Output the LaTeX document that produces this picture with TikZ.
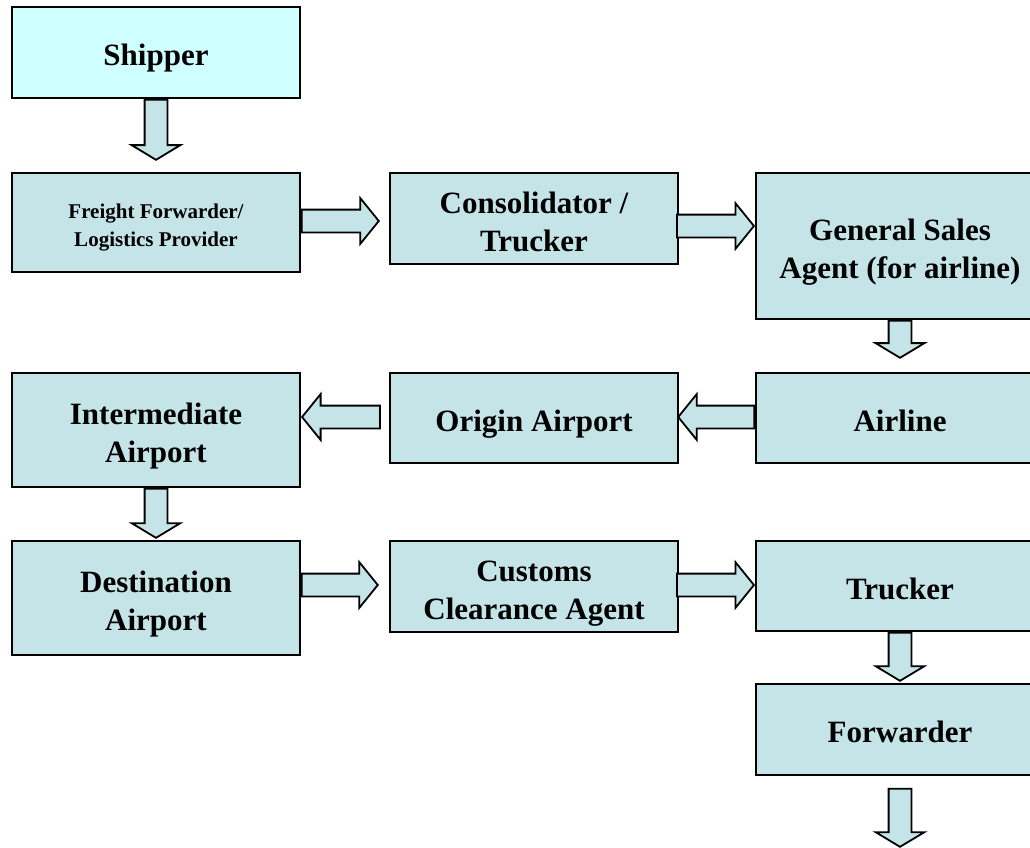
\documentclass[tikz,border=0pt]{standalone}
\usepackage{fontspec}
\setmainfont{Liberation Serif}
\usetikzlibrary{shapes.arrows,calc}

\definecolor{boxblue}{RGB}{196,228,232}
\definecolor{boxcyan}{RGB}{208,255,255}

\tikzset{
    box/.style={draw, line width=1.8pt, fill=boxblue, minimum width=288pt,
        minimum height=91pt, inner sep=0pt, align=center,
        font=\bfseries\fontsize{31}{38}\selectfont,
        text height=33.4pt, text depth=6.8pt},
    twoline/.style={box, text height=72.4pt},
    arr/.style={single arrow, draw, line width=1.8pt, fill=boxblue,
        inner xsep=0pt, inner ysep=10.5pt, minimum width=1pt},
    varr/.style={arr, rotate=-90, single arrow head extend=13pt,
        single arrow tip angle=118},
    harr/.style={arr, single arrow head extend=11.5pt,
        single arrow tip angle=102},
}

\begin{document}
\begin{tikzpicture}[x=1pt,y=-1pt]
    \useasboundingbox (0,0) rectangle (1030,847);

    % boxes
    \node[box, fill=boxcyan] (ship) at (156,52.5) {Shipper};
    \node[box, minimum height=99pt, font=\bfseries\fontsize{21}{28}\selectfont,
        text height=51.6pt, text depth=4.6pt]
        (ff) at (156,222.5) {Freight Forwarder/\\Logistics Provider};
    \node[twoline] (cons) at (534,218.5) {Consolidator /\\Trucker};
    \node[twoline, minimum height=146pt] (gsa) at (900,246) {General Sales\\Agent (for airline)};

    \node[twoline, minimum height=114pt] (inter) at (156,430) {Intermediate\\Airport};
    \node[box, minimum height=90pt] (orig) at (534,418) {Origin Airport};
    \node[box, minimum height=90pt] (air) at (900,418) {Airline};

    \node[twoline, minimum height=114pt] (dest) at (156,598) {Destination\\Airport};
    \node[twoline] (cust) at (534,586.5) {Customs\\Clearance Agent};
    \node[box, minimum height=90pt] (truck) at (900,586) {Trucker};
    \node[box] (fwd) at (900,729.5) {Forwarder};

    % block arrows
    \node[varr, minimum height=60pt, anchor=tail] (a1) at (ship.south) {};
    \node[harr, minimum height=77pt, anchor=tail] (a2) at (ff.east |- 0,221) {};
    \node[harr, minimum height=77pt, anchor=tip] (a3) at (gsa.west |- 0,226) {};
    \node[varr, minimum height=37pt, anchor=tail] (a4) at (gsa.south) {};
    \node[harr, rotate=180, minimum height=76pt, anchor=tail] (a5) at (air.west |- 0,417) {};
    \node[harr, rotate=180, minimum height=78pt, anchor=tip] (a6) at (inter.east |- 0,417) {};
    \node[varr, minimum height=49pt, anchor=tail] (a7) at (inter.south) {};
    \node[harr, minimum height=76pt, anchor=tail] (a8) at (dest.east |- 0,585) {};
    \node[harr, minimum height=77pt, anchor=tip] (a9) at (truck.west |- 0,585) {};
    \node[varr, minimum height=48pt, anchor=tail] (a10) at (truck.south) {};
    \node[varr, minimum height=58pt, anchor=tail] (a11) at ($(fwd.south)+(0,12)$) {};

\end{tikzpicture}
\end{document}
